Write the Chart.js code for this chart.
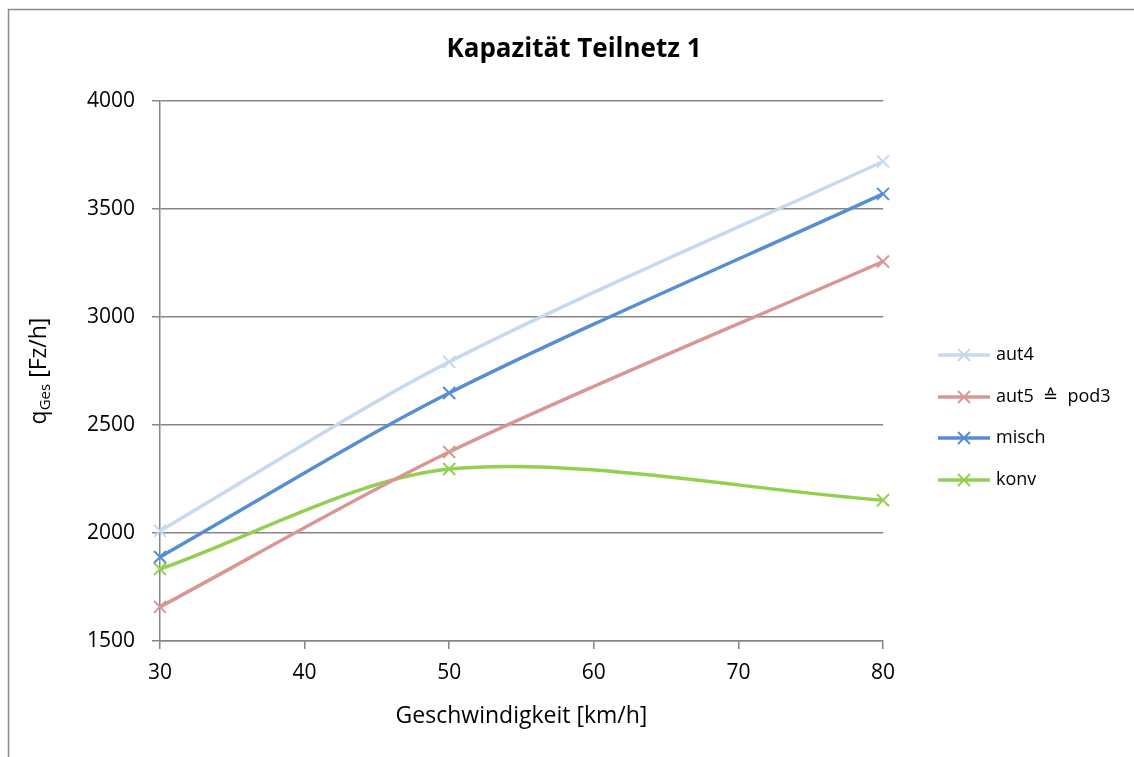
<!DOCTYPE html>
<html>
<head>
<meta charset="utf-8">
<script src="https://cdn.jsdelivr.net/npm/chart.js@4/dist/chart.umd.min.js"></script>
<style>
  html, body { margin: 0; padding: 0; background: #fff; }
  #wrap { position: relative; width: 1134px; height: 757px; }
</style>
</head>
<body>
<div id="wrap"><canvas id="chart" width="1134" height="757"></canvas></div>
<script>
// Daten
var geschw = [30, 50, 80];
var aut4 = [2010, 2792, 3720];
var aut5 = [1658, 2375, 3257];
var misch = [1889, 2648, 3570];
var konv = [1833, 2296, 2152];
var serienNamen = ['aut4', 'aut5  \u2259  pod3', 'misch', 'konv'];
var farben = ['#c6d9f1', '#d99694', '#558ed5', '#92d050'];
var yTicks = [1500, 2000, 2500, 3000, 3500, 4000];
var xTicks = [30, 40, 50, 60, 70, 80];

var FONT = "'Open Sans', 'Noto Sans', sans-serif";

function punkte(werte) {
    return werte.map(function (v, i) { return { x: geschw[i], y: v }; });
}

var alleSerien = [aut4, aut5, misch, konv];
var datasets = alleSerien.map(function (werte, i) {
    return {
        label: serienNamen[i],
        data: punkte(werte),
        borderColor: farben[i],
        backgroundColor: farben[i],
        borderWidth: 3.5,
        pointStyle: 'crossRot',
        pointRadius: 8.5,
        pointBorderWidth: 2,
        pointHoverRadius: 8.5,
        showLine: true,
        tension: 0.3,
        clip: false,
        fill: false
    };
});

// Rahmen, Titel, Achsentitel und Legende selber zeichnen
var extras = {
    id: 'extras',
    afterDraw: function (chart) {
        var ctx = chart.ctx;
        var area = chart.chartArea;
        ctx.save();
        // Rahmen
        ctx.strokeStyle = '#8c8c8c';
        ctx.lineWidth = 1.5;
        ctx.strokeRect(8.5, 9.5, 1300, 900);

        // Titel
        ctx.fillStyle = '#000';
        ctx.font = "bold 26px " + FONT;
        ctx.textAlign = 'center';
        ctx.textBaseline = 'middle';
        ctx.fillText('Kapazit\u00e4t Teilnetz 1', 574, 50);

        // x-Titel
        ctx.font = "23px " + FONT;
        ctx.fillText('Geschwindigkeit [km/h]', (area.left + area.right) / 2, 716);

        // y-Titel: q_Ges [Fz/h]
        ctx.save();
        ctx.translate(38, (area.top + area.bottom) / 2);
        ctx.rotate(-Math.PI / 2);
        ctx.textBaseline = 'alphabetic';
        ctx.textAlign = 'left';
        ctx.font = "23px " + FONT;
        var wq = ctx.measureText('q').width;
        ctx.font = "15px " + FONT;
        var wg = ctx.measureText('Ges').width;
        ctx.font = "23px " + FONT;
        var wr = ctx.measureText(' [Fz/h]').width;
        var start = -(wq + wg + wr) / 2;
        ctx.fillText('q', start, 8);
        ctx.font = "15px " + FONT;
        ctx.fillText('Ges', start + wq, 12);
        ctx.font = "23px " + FONT;
        ctx.fillText(' [Fz/h]', start + wq + wg, 8);
        ctx.restore();

        // Legende
        var ly = [355, 397, 438, 480];
        ctx.font = "18px " + FONT;
        ctx.textAlign = 'left';
        ctx.textBaseline = 'middle';
        for (var i = 0; i < serienNamen.length; i++) {
            ctx.strokeStyle = farben[i];
            ctx.lineWidth = 3.5;
            ctx.beginPath();
            ctx.moveTo(938, ly[i]);
            ctx.lineTo(990, ly[i]);
            ctx.stroke();
            ctx.lineWidth = 2;
            ctx.beginPath();
            ctx.moveTo(958, ly[i] - 6); ctx.lineTo(970, ly[i] + 6);
            ctx.moveTo(970, ly[i] - 6); ctx.lineTo(958, ly[i] + 6);
            ctx.stroke();
            ctx.fillStyle = '#000';
            ctx.fillText(serienNamen[i], 996, ly[i]);
        }
        ctx.restore();
    }
};

var chart = new Chart(document.getElementById('chart'), {
    type: 'scatter',
    data: { datasets: datasets },
    options: {
        responsive: false,
        animation: false,
        layout: { padding: { left: 0, right: 251, top: 101, bottom: 0 } },
        plugins: {
            legend: { display: false },
            tooltip: { enabled: false }
        },
        scales: {
            x: {
                type: 'linear',
                min: 30,
                max: 80,
                afterBuildTicks: function (s) { s.ticks = xTicks.map(function (v) { return { value: v }; }); },
                afterFit: function (s) { s.height = 116; },
                grid: { drawOnChartArea: false, drawTicks: true, tickLength: 8, color: '#868686', lineWidth: 1.5 },
                border: { display: true, color: '#868686', width: 1.5 },
                ticks: { color: '#000', font: { family: FONT, size: 21 }, padding: 11, callback: function (v) { return String(v); } }
            },
            y: {
                type: 'linear',
                min: 1500,
                max: 4000,
                afterBuildTicks: function (s) { s.ticks = yTicks.map(function (v) { return { value: v }; }); },
                afterFit: function (s) { s.width = 160; },
                grid: { drawTicks: true, tickLength: 8, color: '#868686', lineWidth: 1.5 },
                border: { display: true, color: '#868686', width: 1.5 },
                ticks: { color: '#000', font: { family: FONT, size: 21 }, padding: 17, callback: function (v) { return String(v); } }
            }
        }
    },
    plugins: [extras]
});
</script>
</body>
</html>
